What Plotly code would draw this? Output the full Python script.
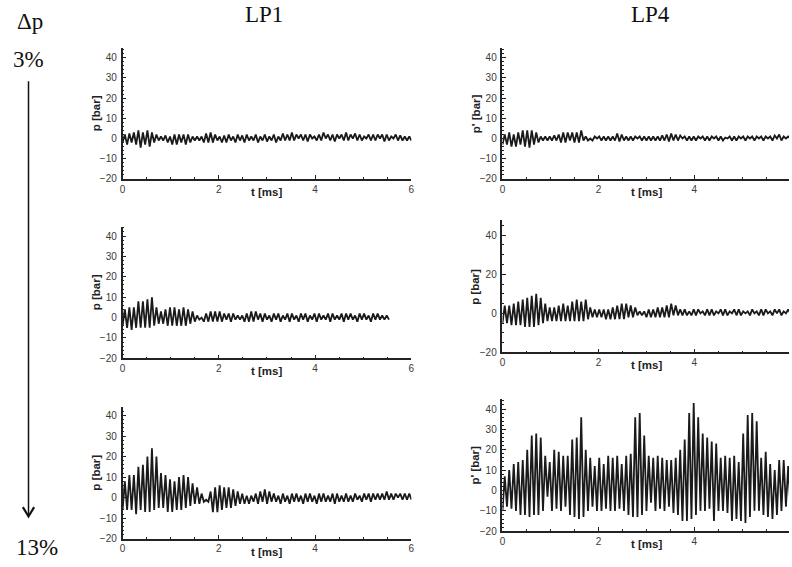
import plotly.graph_objects as go

# ---------------- data ----------------
DT = 0.0469  # ms, sample step between successive extrema

# LP1, dp = 3 %
lp1_3 = [
    -2, 2, -3, 2.5, -2, 3, -3, 4, -4.5, 3, -3, 4, -4, 3, -2, 2,
    -1, 1, -1, 1.5, -2, 1, -3, 2, -3, 2, -2, 2, -3, 2, -2, 1,
    -1, 1, -1, 1, -2, 2.5, -2, 3, -2, 2, -1, 1, -2, 1.5, -2, 2,
    -1, 1, -2, 2, -1, 1.5, -2, 2, -1, 1, -1, 2, -2, 1, -1, 2,
    -1.5, 1, -1, 2, -2, 1, -1, 2.5, -1, 2, -1, 3, -1, 2, 0, 2,
    -1, 2, -1.5, 2, 0, 1, -1, 2, -1, 3, 0, 2, -1, 2, -1.5, 2,
    0, 2, -1, 3, -1, 2, 0, 2.5, -1, 2, -1, 1, 0, 2, -1, 2,
    -1, 2, 0, 2, -1.5, 2, -1, 1, 0, 2, -1, 1.5, -1, 1, -1, 1,
    -1]

# LP4, dp = 3 %
lp4_3 = [
    -3, 2, -3, 3, -4, 2, -4, 3, -3, 4, -4, 4, -4.5, 4, -3, 3,
    -2, 1, -1, 1, -1, 1, -1, 1.5, -1, 2, -2, 3, -2, 3, -1, 3,
    -2, 3, -2, 4, -1, 1, -1, 0, -1, 1, 0, 1, -1, 1, -1, 1,
    -1, 1, -1, 2.5, -1.5, 2, -1, 1, -1, 1, -1, 1, 0, 1, -1, 1,
    -1, 1, -1, 1, -1, 1, -1, 1.5, -1, 2, -1.5, 2.5, -1, 2, -1, 1.5,
    0, 1, -1, 1, -1, 1, -1, 1, 0, 1, -1, 1, -1, 1, 0, 1,
    -1, 1, -1, 0.5, 0, 1, -1, 1, -1, 1, 0, 1, -1, 1, 0, 1,
    -1, 1, 0, 1, -1, 1, 0, 1, -1, 1.5, 0, 2, -1, 1, 0, 1,
    0]

# LP1, dp = 8 %
lp1_8 = [
    -4, 4, -5, 5, -6, 5, -5, 8, -5, 8, -5, 9, -5, 10, -4, 5,
    -3, 3, -3, 4, -4, 5, -4, 5, -4, 4, -4, 5, -4, 4, -3, 3,
    -2, 1, -1, 0, -2, 2, -2, 3, -2, 3, -2, 3, -2, 2, -1, 2,
    -2, 2, -1, 1, -1, 1, -2, 2, -2, 3, -2, 3, -1, 2, -2, 2,
    -1, 1, -2, 2, -1, 2, -2, 1, -1, 2, -2, 2, -1, 1, -2, 2,
    -1, 2, -2, 1, -1, 2, -2, 2, -1, 1, -1, 2, -2, 2, -1, 1,
    -1, 2, -2, 2, -1, 2, -1, 1, -2, 2, -1, 2, -1, 1, -2, 2,
    -1, 2, -1, 1, -1, 1,
    -1]

# LP4, dp = 8 %
lp4_8 = [
    -5, 4, -5, 4, -6, 5, -6, 6, -6, 7, -7, 8, -7, 9, -7, 10,
    -6, 8, -5, 5, -4, 3, -4, 3, -4, 4, -4, 5, -4, 4, -4, 6,
    -4, 7, -4, 6, -4, 7, -3, 3, -2, 2, -2, 2, -2, 2, -3, 2,
    -3, 3, -3, 4, -3, 5, -3, 5, -2, 4, -2, 3, -1, 1, -1, 1,
    -2, 2, -2, 2, -2, 3, -2, 3, -2, 4, -2, 5, -1, 4, -1, 2,
    -1, 2, -1, 1, -1, 2, -1, 2, 0, 1, -1, 2, -1, 2, -1, 1,
    0, 2, -1, 2, -1, 1, 0, 2, -1, 2, -1, 1, 0, 1, -1, 2,
    0, 1, -1, 2, -1, 2, 0, 1, -1, 2, 0, 2, -1, 1, 0, 2,
    0]

# LP1, dp = 13 %
lp1_13 = [
    -6, 8, -6, 11, -6, 11, -8, 15, -6, 16, -7, 20, -7, 24, -6, 20,
    -5, 12, -5, 11, -7, 9, -7, 8, -6, 10, -6, 11, -5, 10, -4, 7,
    -3, 5, -3, 2, -2, -1, -2, 3, -7, 5, -7, 6, -6, 5, -5, 5,
    -5, 4, -4, 3, -3, 2, -3, 1, -3, 1, -2, 2, -3, 3, -2, 4,
    -3, 3, -2, 2, -2, 1, -3, 2, -2, 1, -3, 2, -2, 2, -2, 1,
    -3, 2, -2, 2, -2, 1, -3, 2, -2, 2, -2, 1, -2, 2, -3, 2,
    -2, 1, -2, 2, -2, 1, -2, 2, -1, 1, -2, 2, -1, 2, -2, 2,
    -1, 2, -1, 2, -1, 3, -1, 2, -1, 2, 0, 2, -1, 2, -1, 2,
    -1]

# LP4, dp = 13 %
lp4_13 = [
    -10, 7, -8, 10, -9, 13, -10, 14, -12, 15, -12, 20, -13, 27, -12, 28,
    -12, 26, -10, 17, -3, 14, -10, 20, -9, 19, -10, 17, -8, 17, -12, 25,
    -13, 26, -14, 36, -13, 20, -10, 16, -8, 12, -10, 16, -10, 13, -9, 17,
    -10, 16, -10, 17, -9, 13, -10, 17, -12, 18, -13, 36, -13, 38, -12, 27,
    -10, 17, -6, 16, -10, 17, -9, 16, -10, 15, -8, 15, -11, 16, -12, 20,
    -15, 25, -15, 38, -14, 43, -12, 36, -10, 28, -10, 26, -9, 24, -15, 23,
    -10, 16, -10, 17, -11, 16, -15, 17, -14, 14, -15, 28, -16, 37, -13, 38,
    -10, 34, -10, 16, -12, 19, -13, 13, -14, 10, -12, 15, -10, 15, -8, 12,
    -8]

series = [lp1_3, lp4_3, lp1_8, lp4_8, lp1_13, lp4_13]
y_titles = ["p [bar]", "p' [bar]", "p [bar]", "p [bar]", "p [bar]", "p' [bar]"]
x_ticks = [0, 2, 4, 6]
column_titles = ["LP1", "LP4"]

# ---------------- layout geometry (pixels) ----------------
W, H = 792, 567
col_px = [(120.5, 411.5, 6.0), (503.3, 792.0, 6.0 * (792.0 - 503.3) / 290.0)]
# (top px, bottom px, y max, major dtick, minor dtick)
row_px = [
    [(49.0, 180.8, 44.6, 10, 2), (49.0, 180.8, 44.6, 10, 2)],
    [(229.3, 362.2, 44.5, 10, 2), (222.7, 356.2, 47.6, 20, 5)],
    [(411.7, 544.5, 44.0, 10, 2), (403.3, 536.9, 44.9, 10, 2)],
]

def px_x(p):
    return p / W

def px_y(p):
    return 1 - p / H

fig = go.Figure()
annotations = []
tick_font = dict(family="Liberation Sans, Arial, sans-serif", size=10, color="#3a3a3a")
title_font = dict(family="Liberation Sans, Arial, sans-serif", size=11.5, color="#222222")
line_col = "#222222"

for idx, vals in enumerate(series):
    r, c = divmod(idx, 2)
    n = idx + 1
    xa = "x" if n == 1 else f"x{n}"
    ya = "y" if n == 1 else f"y{n}"
    t = [i * DT for i in range(len(vals))]
    fig.add_trace(go.Scatter(x=t, y=vals, mode="lines", xaxis=xa, yaxis=ya,
                             line=dict(color="#1a1a1a", width=1.8),
                             hoverinfo="skip", showlegend=False))
    x0, x1, xmax = col_px[c]
    top, bot, ymax, dmaj, dmin = row_px[r][c]
    fig.layout[f"xaxis{'' if n == 1 else n}"] = dict(
        domain=[px_x(x0), px_x(x1)], range=[0, xmax], anchor=ya,
        tickvals=x_ticks, ticks="inside", ticklen=4, tickwidth=1, tickcolor=line_col,
        minor=dict(dtick=0.5, tick0=0, ticks="inside", ticklen=2, tickcolor=line_col),
        showline=True, linecolor=line_col, linewidth=1.5, showgrid=False, zeroline=False,
        tickfont=tick_font, ticklabelstandoff=0, fixedrange=True)
    fig.layout[f"yaxis{'' if n == 1 else n}"] = dict(
        domain=[px_y(bot), px_y(top)], range=[-20, ymax], anchor=xa,
        dtick=dmaj, tick0=0, ticks="inside", ticklen=4, tickwidth=1, tickcolor=line_col,
        minor=dict(dtick=dmin, tick0=0, ticks="inside", ticklen=2, tickcolor=line_col),
        showline=True, linecolor=line_col, linewidth=1.5, showgrid=False, zeroline=False,
        tickfont=tick_font, ticklabelstandoff=2, fixedrange=True)
    annotations.append(dict(text="<b>t [ms]</b>", xref=f"{xa} domain", yref=f"{ya} domain",
                            x=0.5 if c == 0 else 145.0 / (x1 - x0), y=0, yshift=-13,
                            xanchor="center", yanchor="middle", showarrow=False, font=title_font))
    annotations.append(dict(text=f"<b>{y_titles[idx]}</b>", xref=f"{xa} domain", yref=f"{ya} domain",
                            x=0, y=0.5, xshift=-27, textangle=-90,
                            xanchor="center", yanchor="middle", showarrow=False, font=title_font))

serif = dict(family="Liberation Serif, Times New Roman, serif", size=23, color="#111111")
for txt, xp, yp in [(column_titles[0], 263, 15), (column_titles[1], 652, 15),
                    ("Δp", 27, 22), ("3%", 26, 60), ("13%", 34, 553)]:
    annotations.append(dict(text=txt, xref="paper", yref="paper", x=px_x(xp), y=px_y(yp),
                            xanchor="center", yanchor="middle", showarrow=False, font=serif))

shapes = [
    dict(type="line", xref="paper", yref="paper", x0=px_x(25.7), x1=px_x(25.7),
         y0=px_y(82), y1=px_y(521), line=dict(color="#111111", width=1.5)),
    dict(type="path", xref="paper", yref="paper",
         path=f"M {px_x(20)} {px_y(512.5)} L {px_x(25.7)} {px_y(522)} L {px_x(31.4)} {px_y(512.5)}",
         line=dict(color="#111111", width=2.2)),
]

fig.update_layout(width=W, height=H, margin=dict(l=0, r=0, t=0, b=0),
                  paper_bgcolor="white", plot_bgcolor="white",
                  annotations=annotations, shapes=shapes, showlegend=False)

fig.write_html("out.html", config={"displayModeBar": False},
               post_script="document.body.style.margin='0';document.body.style.padding='0';"
                           "document.body.style.overflow='hidden';")
